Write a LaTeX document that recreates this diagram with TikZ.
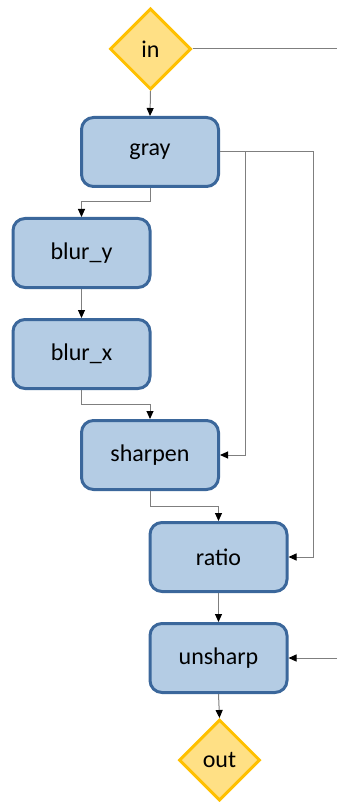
\documentclass[tikz,border=0pt]{standalone}
\usepackage{fontspec}
\setmainfont{Carlito}
\usetikzlibrary{shapes.geometric,arrows.meta,calc}
\definecolor{boxfill}{HTML}{B4CCE4}
\definecolor{boxline}{HTML}{3B679B}
\definecolor{dfill}{HTML}{FFE085}
\definecolor{dline}{HTML}{FFC000}
\definecolor{conncol}{HTML}{7F7F7F}
\begin{document}
\begin{tikzpicture}[x=1pt,y=-1pt,
  stage/.style={draw=boxline,fill=boxfill,line width=3pt,rounded corners=12pt,
    minimum width=137pt,minimum height=69pt,inner sep=0pt,
    font=\fontsize{24}{28}\selectfont},
  io/.style={diamond,draw=dline,fill=dfill,line width=3pt,
    minimum width=81pt,minimum height=81pt,inner sep=0pt,
    font=\fontsize{24}{28}\selectfont},
  conn/.style={draw=conncol,line width=1pt,-{Triangle[length=8pt,width=7pt,black]}},
  plain/.style={draw=conncol,line width=1pt}]
\useasboundingbox (0,0) rectangle (337,802);
\node[io] (in) at (150.5,49) {in};
\node[stage] (gray) at (150,152) {gray};
\node[stage] (bluey) at (81.5,253) {blur\_y};
\node[stage] (blurx) at (81.5,354) {blur\_x};
\node[stage] (sharpen) at (150,455) {sharpen};
\node[stage] (ratio) at (218.5,557) {ratio};
\node[stage] (unsharp) at (218.5,658) {unsharp};
\node[io] (out) at (219.5,760) {out};
\coordinate (inr) at (337,49);
\coordinate (unr) at (337,658);
\draw[plain] (in.east) -- (inr);
\draw[conn] (in.south) -- (gray.north);
\draw[conn] (gray.south) -- (gray.south |- 0,202) -| (bluey.north);
\draw[conn] (bluey.south) -- (blurx.north);
\draw[conn] (blurx.south) -- (blurx.south |- 0,404) -| (sharpen.north);
\draw[conn] (gray.east) -- (gray.east -| 245,0) |- (sharpen.east);
\draw[conn] (gray.east) -- (gray.east -| 313,0) |- (ratio.east);
\draw[conn] (sharpen.south) -- (sharpen.south |- 0,506) -| (ratio.north);
\draw[conn] (ratio.south) -- (unsharp.north);
\draw[conn] (unr) -- (unsharp.east);
\draw[conn] (unsharp.south) -- (out.north);
\end{tikzpicture}
\end{document}
